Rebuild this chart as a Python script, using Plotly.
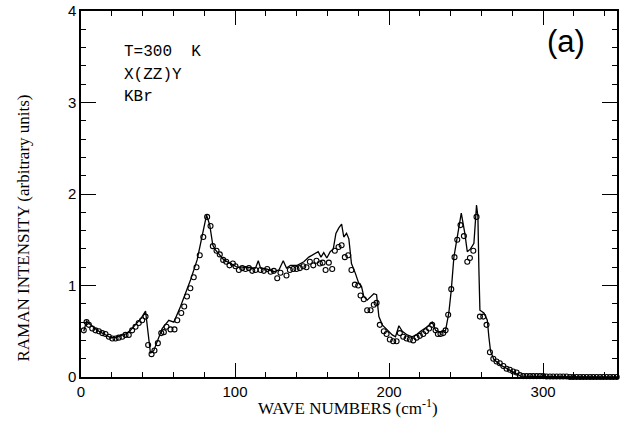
import plotly.graph_objects as go

# Circles (experimental points)
circ_x = [1.8, 3.6, 5.1, 7.3, 9.4, 11.6, 13.8, 15.9, 18.1, 20.3, 22.4, 24.5, 26.8, 28.9, 31.0,
          33.2, 35.4, 37.5, 39.7, 41.9, 43.6, 45.8, 47.7, 49.9, 52.1, 53.8, 55.5, 58.1, 60.7,
          62.5, 65.1, 67.0, 68.8, 71.0, 73.2, 75.0, 77.1, 79.4, 81.9, 84.1, 85.6, 88.0, 90.1,
          92.3, 94.3, 96.4, 98.6, 100.3, 102.5, 104.7, 106.8, 109.0, 111.2, 113.3, 116.6,
          118.7, 120.9, 123.1, 125.2, 127.4, 129.5, 133.4, 135.6, 137.8, 139.9, 142.1, 144.3,
          146.4, 148.6, 150.8, 152.9, 155.1, 156.9, 158.8, 160.9, 163.1, 164.8, 167.2, 169.2,
          171.3, 173.5, 175.6, 177.8, 180.0, 181.5, 183.6, 185.8, 188.0, 190.1, 191.9, 194.0,
          196.6, 198.4, 200.5, 202.7, 204.9, 207.0, 209.2, 211.4, 213.5, 215.7, 217.9, 220.0,
          222.2, 224.0, 226.0, 228.0, 230.2, 231.7, 233.4, 235.2, 236.7, 238.4, 240.4, 242.5,
          244.3, 246.4, 248.6, 250.8, 252.5, 254.7, 256.8, 259.0, 261.2, 263.3, 265.5, 267.7,
          269.8, 271.9, 274.2, 276.3, 278.4, 280.6, 282.8, 284.9, 287.1,
          289.3, 291.5, 293.6, 295.8, 298.0, 300.1, 302.3, 304.5, 306.6, 308.8, 311.0, 313.1,
          315.3, 317.5, 319.6, 321.8, 324.0, 326.1, 328.3, 330.5, 332.6, 334.8, 337.0, 339.1,
          341.3, 343.5, 345.6, 347.8]
circ_y = [0.51, 0.60, 0.57, 0.53, 0.51, 0.50, 0.48, 0.47, 0.44, 0.42, 0.42, 0.43, 0.44, 0.46, 0.46,
          0.51, 0.55, 0.59, 0.62, 0.66, 0.35, 0.25, 0.29, 0.37, 0.48, 0.49, 0.55, 0.52, 0.52,
          0.62, 0.70, 0.77, 0.88, 0.97, 1.09, 1.20, 1.33, 1.53, 1.75, 1.65, 1.43, 1.38, 1.34,
          1.28, 1.26, 1.22, 1.24, 1.21, 1.17, 1.19, 1.18, 1.19, 1.16, 1.17, 1.17,
          1.16, 1.18, 1.15, 1.16, 1.08, 1.14, 1.11, 1.17, 1.18, 1.18, 1.19, 1.21,
          1.20, 1.26, 1.22, 1.27, 1.24, 1.25, 1.17, 1.25, 1.18, 1.38, 1.42, 1.44,
          1.31, 1.33, 1.17, 1.01, 1.00, 0.89, 0.85, 0.73, 0.73, 0.79, 0.81, 0.57,
          0.50, 0.47, 0.41, 0.39, 0.39, 0.48, 0.44, 0.42, 0.41, 0.40, 0.43, 0.45,
          0.47, 0.50, 0.53, 0.57, 0.51, 0.47, 0.47, 0.48, 0.51, 0.68, 0.96, 1.31,
          1.50, 1.66, 1.54, 1.26, 1.30, 1.38, 1.75, 0.66, 0.66, 0.57, 0.27, 0.20,
          0.17, 0.15, 0.12, 0.09, 0.08, 0.06, 0.05, 0.02, 0.01,
          0.01, 0.01, 0.01, 0.01, 0.01, 0.01, 0.005, 0.005, 0.005, 0.005, 0.005, 0.005,
          0.005, 0.0, 0.0, 0.0, 0.0, 0.0, 0.0, 0.0, 0.0, 0.0, 0.0, 0.0,
          0.0, 0.0, 0.0, 0.0]

# Solid line (calculated spectrum)
line_x = [1.8, 3.6, 6.2, 10.5, 14.8, 19.2, 22.0, 25.6, 29.0, 32.1, 36.5, 39.0, 41.9, 45.1, 47.3,
          50.0, 52.7, 57.0, 60.3, 64.6, 71.1, 75.4, 78.7, 81.5, 83.6, 85.6, 87.3, 90.6, 92.7,
          97.1, 101.4, 105.7, 110.1, 113.3, 115.1, 116.6, 120.9, 125.2, 128.5, 131.3, 133.4,
          136.0, 140.4, 144.7, 147.9, 150.1, 152.3, 154.0, 155.8, 157.6, 159.6, 161.8, 163.8,
          165.5, 167.4, 169.2, 170.6, 172.4, 173.9, 175.6, 178.2, 180.4, 182.1, 183.6, 185.8,
          188.0, 190.1, 191.9, 193.4, 195.6, 198.8, 202.1, 204.2, 206.4, 208.6, 211.8, 215.1,
          218.3, 220.5, 224.8, 228.0, 230.2, 233.4, 236.7, 238.8, 240.4, 242.1, 244.3, 246.9,
          249.2, 250.8, 252.9, 255.1, 256.8, 257.7, 258.3, 259.0, 261.6, 263.8, 264.8, 265.9,
          268.1, 272.4, 276.8, 281.0, 285.4, 300.0, 320.0, 348.0]
line_y = [0.50, 0.61, 0.57, 0.51, 0.47, 0.43, 0.43, 0.45, 0.47, 0.51, 0.59, 0.64, 0.72, 0.26, 0.29,
          0.40, 0.53, 0.62, 0.60, 0.77, 1.06, 1.28, 1.53, 1.77, 1.66, 1.44, 1.39, 1.33, 1.28,
          1.24, 1.20, 1.20, 1.19, 1.19, 1.27, 1.19, 1.18, 1.15, 1.17, 1.27, 1.19,
          1.22, 1.22, 1.26, 1.31, 1.33, 1.35, 1.37, 1.31, 1.36, 1.30, 1.37, 1.40,
          1.57, 1.63, 1.67, 1.53, 1.57, 1.51, 1.24, 1.13, 1.02, 0.99, 0.88, 0.84,
          0.88, 0.91, 0.90, 0.66, 0.57, 0.51, 0.46, 0.44, 0.56, 0.50, 0.46, 0.44,
          0.47, 0.50, 0.55, 0.60, 0.51, 0.49, 0.51, 0.70, 0.95, 1.31, 1.53, 1.79,
          1.57, 1.37, 1.40, 1.46, 1.88, 1.75, 1.20, 0.73, 0.70, 0.62, 0.44, 0.28,
          0.19, 0.13, 0.09, 0.05, 0.01, 0.005, 0.0, 0.0]

labels = ["T=300  K", "X(ZZ)Y", "KBr"]
panel = "(a)"
x_title = "WAVE NUMBERS (cm<sup>-1</sup>)"
y_title = "RAMAN INTENSITY (arbitrary units)"
x_range = [0, 348]
y_range = [0, 4]

# Page body margin is removed by a post-script, so the figure fills the window.
W, H = 625, 438
L, R, T, B = 80.5, 8, 11, 61

fig = go.Figure()
fig.add_trace(go.Scatter(x=line_x, y=line_y, mode="lines",
                         line=dict(color="black", width=1.3), cliponaxis=False,
                         showlegend=False))
fig.add_trace(go.Scatter(x=circ_x, y=circ_y, mode="markers",
                         marker=dict(symbol="circle-open", size=5, color="black",
                                     line=dict(width=1.1, color="black")),
                         cliponaxis=False, showlegend=False))
# invisible trace to anchor the mirrored (top/right) tick axes
fig.add_trace(go.Scatter(x=[x_range[0]], y=[y_range[0]], xaxis="x2", yaxis="y2",
                         mode="markers", marker=dict(opacity=0), showlegend=False,
                         hoverinfo="skip"))

serif = "Liberation Serif"
# annotations positioned in page pixels (converted below)
for i, t in enumerate(labels):
    fig.add_annotation(x=122, y=[52, 75, 97][i], text=t, showarrow=False,
                       xanchor="left", yanchor="middle",
                       font=dict(family="Liberation Mono", size=16, color="black"))
fig.add_annotation(x=566, y=42, text=panel, showarrow=False, xanchor="center",
                   yanchor="middle", font=dict(family="Liberation Sans", size=31, color="black"))
fig.add_annotation(x=348, y=407, text=x_title, showarrow=False, xanchor="center",
                   yanchor="middle", font=dict(family=serif, size=17, color="black"))
fig.add_annotation(x=22, y=228, text=y_title, showarrow=False, xanchor="center",
                   yanchor="middle", textangle=-90,
                   font=dict(family=serif, size=17, color="black"))

pw, ph = W - L - R, H - T - B
for a in fig.layout.annotations:
    a.xref = "paper"; a.yref = "paper"
    a.x = (a.x - L) / pw
    a.y = (H - B - a.y) / ph

common = dict(ticks="inside", tickwidth=1.2, tickcolor="black", showline=True,
              linecolor="black", linewidth=1.5, showgrid=False, zeroline=False,
              automargin=False, ticklabeloverflow="allow")

fig.update_layout(
    width=W, height=H,
    margin=dict(l=L, r=R, t=T, b=B, pad=0),
    plot_bgcolor="white", paper_bgcolor="white",
    font=dict(family="Liberation Sans", size=15, color="black"),
    xaxis=dict(range=x_range, tickvals=[0, 100, 200, 300], ticklen=14,
               minor=dict(dtick=20, tick0=0, ticks="inside", ticklen=5, tickwidth=1,
                          tickcolor="black", showgrid=False), **common),
    yaxis=dict(range=y_range, tickvals=[0, 1, 2, 3, 4], ticklen=15,
               minor=dict(dtick=0.2, tick0=0, ticks="inside", ticklen=5, tickwidth=1,
                          tickcolor="black", showgrid=False), **common),
    xaxis2=dict(range=x_range, overlaying="x", side="top", anchor="y2",
                tickvals=[0, 100, 200, 300], ticklen=14, showticklabels=False,
                minor=dict(dtick=20, tick0=0, ticks="inside", ticklen=5, tickwidth=1,
                           tickcolor="black", showgrid=False), **common),
    yaxis2=dict(range=y_range, overlaying="y", side="right", anchor="x2",
                tickvals=[0, 1, 2, 3, 4], ticklen=15, showticklabels=False,
                minor=dict(dtick=0.2, tick0=0, ticks="inside", ticklen=5, tickwidth=1,
                           tickcolor="black", showgrid=False), **common),
)

fig.write_html("out.html", config={"displayModeBar": False},
               post_script="document.body.style.margin='0px';document.body.style.overflow='hidden';")
